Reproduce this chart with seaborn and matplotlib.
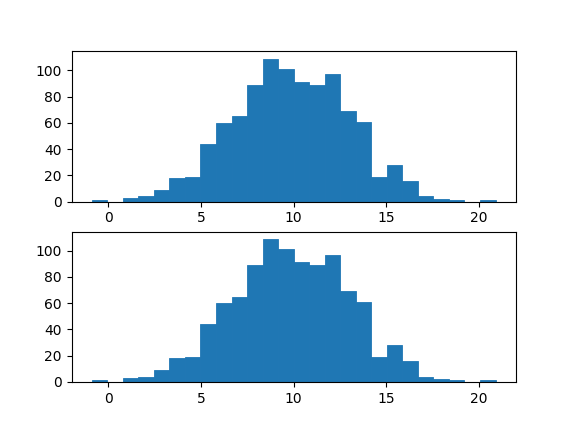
import numpy as np
import pandas as pd
import matplotlib
matplotlib.use("Agg")
import matplotlib.pyplot as plt
from matplotlib.ticker import MultipleLocator
import seaborn as sns

# Histogram counts (26 bins)
counts = [1, 0, 3, 4, 9, 18, 19, 44, 60, 65, 89, 109, 101,
          91, 89, 97, 69, 61, 19, 28, 16, 4, 2, 1, 0, 1]
bin_start = -0.90
bin_end = 20.90

edges = np.linspace(bin_start, bin_end, len(counts) + 1)
df = pd.DataFrame({"x": (edges[:-1] + edges[1:]) / 2, "n": counts})

fig, axes = plt.subplots(2, 1, figsize=(5.73, 4.29), dpi=100)
for ax in axes:
    # thin edge in the fill colour hides the gaps between neighbouring bars
    sns.histplot(data=df, x="x", weights="n", bins=edges.tolist(), ax=ax,
                 color="#1f77b4", alpha=1, linewidth=0.6, edgecolor="#1f77b4")
    ax.yaxis.set_major_locator(MultipleLocator(20))
    ax.set_xlabel("")
    ax.set_ylabel("")

fig.savefig("out.png", dpi=100)
